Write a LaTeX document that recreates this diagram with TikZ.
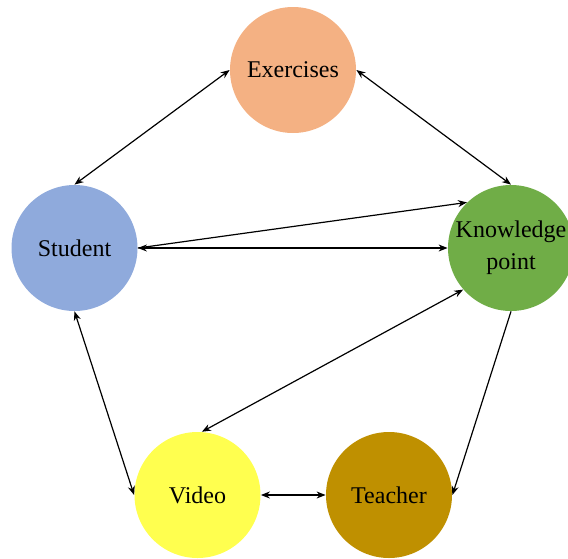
\documentclass[tikz,border=0pt]{standalone}
\usepackage{fontspec}
\setmainfont{Liberation Serif}
\usetikzlibrary{arrows.meta}

\definecolor{exorange}{HTML}{F4B183}
\definecolor{stblue}{HTML}{8FAADC}
\definecolor{kpgreen}{HTML}{70AD47}
\definecolor{viyellow}{HTML}{FFFF4F}
\definecolor{tegold}{HTML}{BF9000}

\begin{document}
\begin{tikzpicture}[x=0.5pt,y=-0.5pt,
	topic/.style={circle,minimum size=63pt,inner sep=0pt,align=center,
		font=\fontsize{12}{16}\selectfont},
	both/.style={{Stealth[length=4.5pt,width=3.5pt]}-{Stealth[length=4.5pt,width=3.5pt]},line width=0.6pt},
	oneway/.style={-{Stealth[length=4.5pt,width=3.5pt]},line width=0.6pt}]
	
	\useasboundingbox (0,0) rectangle (568,558);
	
	%circles
	\node[topic,fill=exorange] (ex) at (293,70)  {Exercises};
	\node[topic,fill=stblue]   (st) at (74.5,248) {Student};
	\node[topic,fill=kpgreen]  (kp) at (511,248) {Knowledge\\point};
	\node[topic,fill=viyellow] (vi) at (197.5,495) {Video};
	\node[topic,fill=tegold]   (te) at (389,495) {Teacher};
	
	%upper links
	\draw[both] (ex.west) -- (st.north);
	\draw[both] (ex.east) -- (kp.north);
	
	%middle links
	\draw[both] (st.east) -- (kp.west);
	\draw[oneway] (st.east) -- (kp.134);	%upper one, head at knowledge point only
	
	%lower links
	\draw[both] (st.south) -- (vi.west);
	\draw[both] (kp.221) -- (vi.86);
	\draw[oneway] (kp.south) -- (te.east);
	\draw[both] (vi.east) -- (te.west);
	
\end{tikzpicture}
\end{document}
